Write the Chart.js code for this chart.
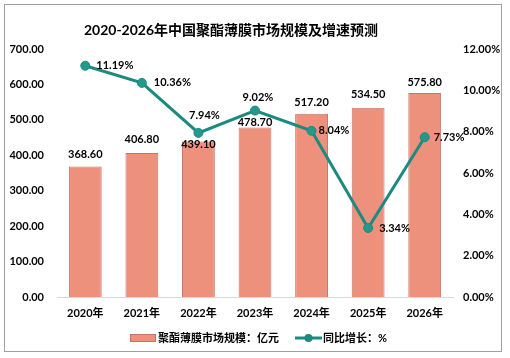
<!DOCTYPE html>
<html>
<head>
<meta charset="utf-8">
<script src="https://cdn.jsdelivr.net/npm/chart.js@4.4.1/dist/chart.umd.min.js"></script>
<style>
  html, body { margin: 0; padding: 0; background: #fff; }
  #wrap { position: relative; width: 510px; height: 358px; }
  #frame { position: absolute; left: 4px; top: 4px; width: 498px; height: 348px; border: 1px solid #a0a0a0; box-sizing: border-box; pointer-events: none; }
</style>
</head>
<body>
<div id="wrap">
  <canvas id="chart" width="510" height="358"></canvas>
  <div id="frame"></div>
</div>
<script>
const years = ['2020年', '2021年', '2022年', '2023年', '2024年', '2025年', '2026年'];
const marketSize = [368.6, 406.8, 439.1, 478.7, 517.2, 534.5, 575.8];
const growthRate = [11.19, 10.36, 7.94, 9.02, 8.04, 3.34, 7.73];

const titleText = '2020-2026年中国聚酯薄膜市场规模及增速预测';
const barName = '聚酯薄膜市场规模：亿元';
const lineName = '同比增长：%';

const FONT = 'Lato, "Noto Sans CJK SC", sans-serif';
const barFill = '#ee917c';
const barEdge = '#c57466';
const teal = '#1d8a7f';

// where excel put each label (offset from the mark), hand placed in the original
const barLabelLift = [12, 13, -3, 5, 11, 13, 11];
const lineLabelPos = [
  { dx: 11, dy: 0, align: 'left' },
  { dx: 12, dy: 0, align: 'left' },
  { dx: 6, dy: -17, align: 'center' },
  { dx: 3, dy: -13, align: 'center' },
  { dx: 7, dy: 0, align: 'left' },
  { dx: 11, dy: 0, align: 'left' },
  { dx: 9, dy: 0, align: 'left' }
];

const extras = {
  id: 'extras',
  afterDatasetsDraw(chart) {
    const ctx = chart.ctx;
    ctx.save();
    ctx.fillStyle = '#000';
    ctx.textBaseline = 'middle';
    ctx.font = 'bold 11px ' + FONT;

    // bar values (dataset 1)
    ctx.textAlign = 'center';
    chart.getDatasetMeta(1).data.forEach((bar, i) => {
      ctx.fillText(marketSize[i].toFixed(2), bar.x, bar.y - barLabelLift[i]);
    });

    // growth values (dataset 0)
    chart.getDatasetMeta(0).data.forEach((pt, i) => {
      const p = lineLabelPos[i];
      ctx.textAlign = p.align;
      ctx.fillText(growthRate[i].toFixed(2) + '%', pt.x + p.dx, pt.y + p.dy);
    });

    // title
    ctx.font = 'bold 14px ' + FONT;
    ctx.textAlign = 'center';
    ctx.fillText(titleText, 231, 30);

    // legend
    ctx.font = 'bold 11px ' + FONT;
    ctx.textAlign = 'left';
    ctx.fillStyle = barFill;
    ctx.strokeStyle = barEdge;
    ctx.lineWidth = 1;
    ctx.fillRect(130, 334, 25, 7);
    ctx.strokeRect(130.5, 334.5, 25, 7);
    ctx.fillStyle = '#000';
    ctx.fillText(barName, 158, 338);

    ctx.strokeStyle = teal;
    ctx.lineWidth = 3;
    ctx.beginPath();
    ctx.moveTo(295, 338);
    ctx.lineTo(322, 338);
    ctx.stroke();
    ctx.fillStyle = teal;
    ctx.beginPath();
    ctx.arc(308.5, 338, 4, 0, Math.PI * 2);
    ctx.fill();
    ctx.fillStyle = '#000';
    ctx.fillText(lineName, 323, 338);
    ctx.restore();
  }
};

new Chart(document.getElementById('chart'), {
  data: {
    labels: years,
    datasets: [
      {
        type: 'line',
        label: lineName,
        data: growthRate,
        yAxisID: 'y1',
        borderColor: teal,
        borderWidth: 3,
        pointRadius: 4.5,
        pointBackgroundColor: '#23988b',
        pointBorderColor: teal,
        pointBorderWidth: 1,
        tension: 0,
        order: 0
      },
      {
        type: 'bar',
        label: barName,
        data: marketSize,
        yAxisID: 'y',
        backgroundColor: barFill,
        borderColor: barEdge,
        borderWidth: 1,
        categoryPercentage: 1,
        barPercentage: 0.58,
        order: 1
      }
    ]
  },
  options: {
    responsive: false,
    animation: false,
    layout: { padding: { top: 49, left: 0, right: 0, bottom: 0 } },
    plugins: {
      legend: { display: false },
      tooltip: { enabled: false }
    },
    scales: {
      x: {
        grid: { display: false, drawTicks: false },
        border: { display: true, color: '#d9d9d9' },
        ticks: { color: '#000', padding: 10, font: { family: FONT, size: 11, weight: 'bold' } },
        afterFit(s) { s.height = 61; }
      },
      y: {
        position: 'left',
        min: 0, max: 700,
        ticks: {
          stepSize: 100, color: '#000', padding: 13,
          font: { family: FONT, size: 11, weight: 'bold' },
          callback: v => v.toFixed(2)
        },
        grid: { display: false, drawTicks: false },
        border: { display: false },
        afterFit(s) { s.width = 57; }
      },
      y1: {
        position: 'right',
        min: 0, max: 12,
        ticks: {
          stepSize: 2, color: '#000', padding: 10,
          font: { family: FONT, size: 11, weight: 'bold' },
          callback: v => v.toFixed(2) + '%'
        },
        grid: { display: false, drawTicks: false },
        border: { display: false },
        afterFit(s) { s.width = 57; }
      }
    }
  },
  plugins: [extras]
});
</script>
</body>
</html>
